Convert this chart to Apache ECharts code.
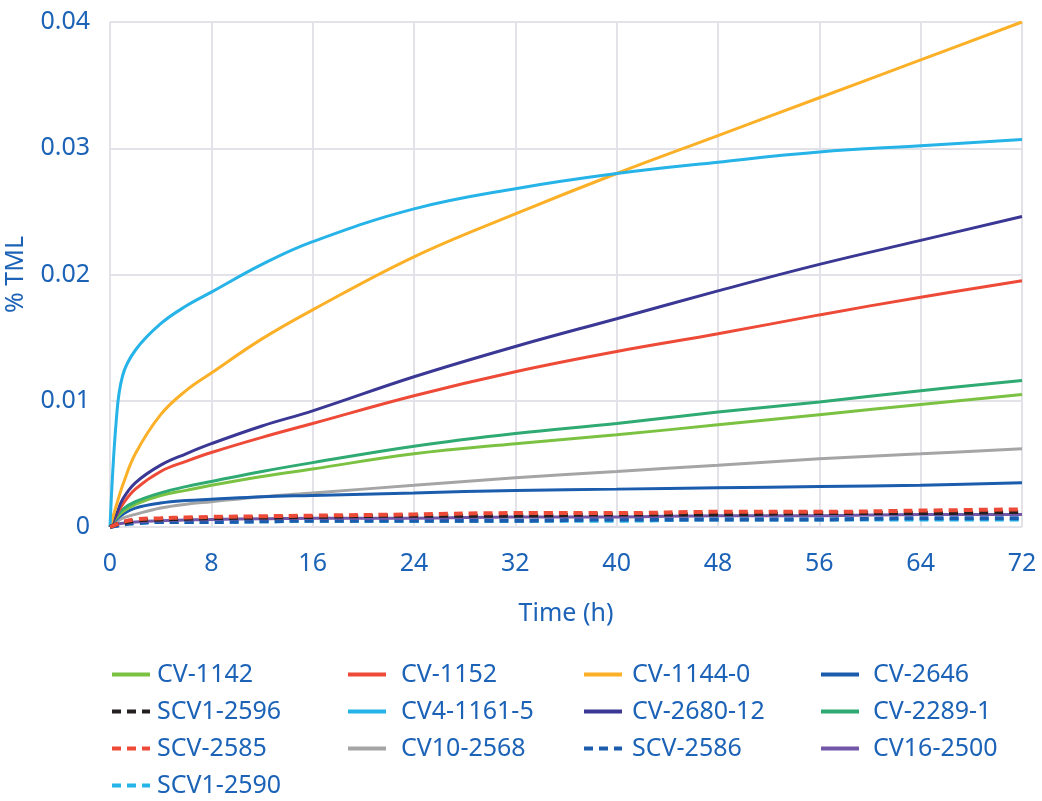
<!DOCTYPE html>
<html>
<head>
<meta charset="utf-8">
<script src="https://cdn.jsdelivr.net/npm/echarts@6/dist/echarts.min.js"></script>
<style>
  html, body { margin: 0; padding: 0; background: #fff; }
  #chart { width: 1042px; height: 801px; }
</style>
</head>
<body>
<div id="chart"></div>
<script>
// time points (h)
const hours = [0, 0.5, 1, 2, 4, 6, 8, 12, 16, 24, 32, 40, 48, 56, 64, 72];

// % TML
const cv1142   = [0, 0.0007, 0.0012, 0.0018, 0.0025, 0.0029, 0.0033, 0.0040, 0.0046, 0.0058, 0.0066, 0.0073, 0.0081, 0.0089, 0.0097, 0.0105];
const cv1152   = [0, 0.0009, 0.0018, 0.0030, 0.0044, 0.0052, 0.0059, 0.0071, 0.0082, 0.0104, 0.0123, 0.0139, 0.0153, 0.0168, 0.0182, 0.0195];
const cv11440  = [0, 0.0017, 0.0033, 0.0058, 0.0089, 0.0108, 0.0122, 0.0149, 0.0172, 0.0214, 0.0248, 0.0280, 0.0310, 0.0340, 0.0370, 0.0400];
const cv2646   = [0, 0.0006, 0.0010, 0.0015, 0.0019, 0.0021, 0.0022, 0.0024, 0.0025, 0.0027, 0.0029, 0.0030, 0.0031, 0.0032, 0.0033, 0.0035];
const scv12596 = [0, 0.0002, 0.0003, 0.0005, 0.0006, 0.00065, 0.0007, 0.00075, 0.0008, 0.0009, 0.0009, 0.0010, 0.0010, 0.0011, 0.0011, 0.0012];
const cv411615 = [0, 0.0085, 0.0120, 0.0140, 0.0161, 0.0175, 0.0186, 0.0208, 0.0226, 0.0252, 0.0268, 0.0280, 0.0289, 0.0297, 0.0302, 0.0307];
const cv268012 = [0, 0.0010, 0.0022, 0.0035, 0.0049, 0.0058, 0.0066, 0.0080, 0.0092, 0.0119, 0.0143, 0.0165, 0.0187, 0.0208, 0.0227, 0.0246];
const cv22891  = [0, 0.0008, 0.0014, 0.0020, 0.0027, 0.0032, 0.0036, 0.0044, 0.0051, 0.0064, 0.0074, 0.0082, 0.0091, 0.0099, 0.0108, 0.0116];
const scv2585  = [0, 0.0002, 0.0004, 0.0006, 0.0007, 0.00075, 0.0008, 0.00085, 0.0009, 0.0010, 0.0011, 0.0011, 0.0012, 0.0012, 0.0013, 0.0014];
const cv102568 = [0, 0.0004, 0.0007, 0.0010, 0.0015, 0.0018, 0.0020, 0.0024, 0.0027, 0.0033, 0.0039, 0.0044, 0.0049, 0.0054, 0.0058, 0.0062];
const scv2586  = [0, 0.0001, 0.0002, 0.0003, 0.0004, 0.0004, 0.0004, 0.00045, 0.0005, 0.0005, 0.0005, 0.0006, 0.0006, 0.0006, 0.0007, 0.0007];
const cv162500 = [0, 0.0002, 0.0003, 0.0004, 0.0005, 0.00055, 0.0006, 0.00065, 0.0007, 0.0007, 0.0008, 0.0008, 0.0009, 0.0009, 0.0010, 0.0010];
const scv12590 = [0, 0.0001, 0.0002, 0.0003, 0.0004, 0.0004, 0.0004, 0.00045, 0.0005, 0.0005, 0.0005, 0.0005, 0.0006, 0.0006, 0.0006, 0.0006];

const blue = '#1c63b7';
const font = 'Noto Sans';

function pair(vals) {
    return hours.map((h, i) => [h, vals[i]]);
}

function line(name, vals, color, dashed) {
    return {
        name: name,
        type: 'line',
        data: pair(vals),
        smooth: 0.4,
        symbol: 'none',
        lineStyle: {
            color: color,
            width: dashed ? 4 : 3,
            type: dashed ? [9, 6] : 'solid'
        },
        itemStyle: { color: color }
    };
}

// one legend per entry so the 4-column layout can be placed like the original
function legendItem(name, left, top, gap) {
    return {
        left: left,
        top: top,
        padding: 0,
        itemWidth: 38,
        itemHeight: 12,
        itemStyle: { opacity: 0 },
        lineStyle: { width: 4 },
        textStyle: {
            color: blue, fontSize: 25, fontFamily: font,
            padding: [0, 0, 0, gap]
        },
        data: [name]
    };
}

const rows = [662, 699, 736, 773];
const chart = echarts.init(document.getElementById('chart'));
chart.setOption({
    animation: false,
    backgroundColor: '#fff',
    grid: { left: 110, right: 20, top: 22, bottom: 274, outerBoundsMode: 'none' },
    xAxis: {
        type: 'value',
        min: 0,
        max: 72,
        interval: 8,
        name: 'Time (h)',
        nameLocation: 'middle',
        nameGap: 74,
        nameTextStyle: { color: blue, fontSize: 25, fontFamily: font },
        axisLine: { show: false },
        axisTick: { show: false },
        axisLabel: { color: blue, fontSize: 25, fontFamily: font, margin: 24 },
        splitLine: { show: true, lineStyle: { color: '#e2e2e8', width: 2 } }
    },
    yAxis: {
        type: 'value',
        min: 0,
        max: 0.04,
        interval: 0.01,
        name: '% TML',
        nameLocation: 'middle',
        nameGap: 82,
        nameTextStyle: { color: blue, fontSize: 25, fontFamily: font },
        axisLine: { show: false },
        axisTick: { show: false },
        axisLabel: { color: blue, fontSize: 25, fontFamily: font, margin: 20 },
        splitLine: { show: true, lineStyle: { color: '#e2e2e8', width: 2 } }
    },
    legend: [
        legendItem('CV-1142', 110, rows[0], 2),
        legendItem('SCV1-2596', 110, rows[1], 2),
        legendItem('SCV-2585', 110, rows[2], 2),
        legendItem('SCV1-2590', 110, rows[3], 2),
        legendItem('CV-1152', 346, rows[0], 10),
        legendItem('CV4-1161-5', 346, rows[1], 10),
        legendItem('CV10-2568', 346, rows[2], 10),
        legendItem('CV-1144-0', 582, rows[0], 5),
        legendItem('CV-2680-12', 582, rows[1], 5),
        legendItem('SCV-2586', 582, rows[2], 5),
        legendItem('CV-2646', 819, rows[0], 9),
        legendItem('CV-2289-1', 819, rows[1], 9),
        legendItem('CV16-2500', 819, rows[2], 9)
    ],
    series: [
        line('CV10-2568', cv102568, '#a5a5a5'),
        line('CV-2646', cv2646, '#1b5cad'),
        line('CV-1142', cv1142, '#7cc242'),
        line('CV-2289-1', cv22891, '#2eaa72'),
        line('CV-1152', cv1152, '#ee4a38'),
        line('CV-2680-12', cv268012, '#3a3894'),
        line('CV-1144-0', cv11440, '#fbb027'),
        line('CV4-1161-5', cv411615, '#25b3e8'),
        line('SCV1-2590', scv12590, '#25b3e8', true),
        line('SCV-2586', scv2586, '#1b5cad', true),
        line('CV16-2500', cv162500, '#7256a8'),
        line('SCV1-2596', scv12596, '#231f20', true),
        line('SCV-2585', scv2585, '#ee4a38', true)
    ]
});
</script>
</body>
</html>
